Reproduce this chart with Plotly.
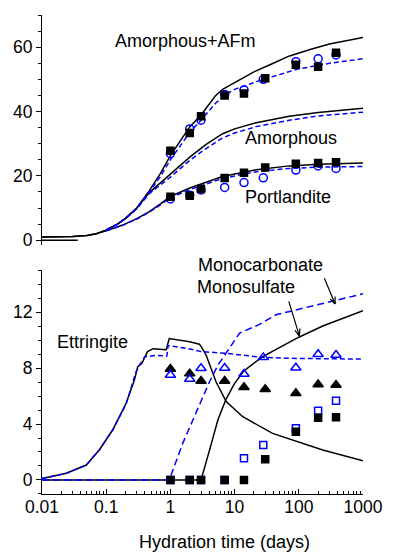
import math
import numpy as np
import plotly.graph_objects as go

# ---------------- data: top panel (model curves) ----------------
t_afm_bk = [0.01, 0.02, 0.03, 0.05, 0.07, 0.1, 0.15, 0.2, 0.3, 0.47, 0.7, 1, 1.5, 2, 3, 4, 5, 6.5, 10, 20, 40, 70, 150, 300, 1000]
v_afm_bk = [1.0, 1.05, 1.15, 1.45, 2.0, 3.2, 5.0, 6.8, 10.0, 15.4, 20.8, 26.3, 31.5, 35.2, 38.9, 42.4, 44.8, 46.9, 49.0, 52.3, 55.0, 57.2, 59.3, 61.0, 63.0]
t_afm_bl = [0.1, 0.15, 0.2, 0.3, 0.47, 0.7, 1, 1.5, 2, 3, 4, 5, 7, 10, 28, 93, 300, 1000]
v_afm_bl = [3.2, 5.0, 6.7, 9.8, 15.0, 19.8, 25.0, 30.0, 33.5, 37.3, 40.3, 42.5, 45.0, 46.9, 50.0, 53.1, 55.0, 56.4]

t_am_bk = [0.1, 0.15, 0.2, 0.3, 0.47, 0.7, 1, 2, 3.6, 6.5, 10, 21.7, 71, 200, 1000]
v_am_bk = [3.2, 5.0, 6.8, 10.0, 14.8, 17.8, 20.5, 25.8, 29.8, 33.1, 34.6, 36.5, 38.5, 39.7, 41.0]
t_am_bl = [0.1, 0.15, 0.2, 0.3, 0.47, 0.7, 1, 2, 3.6, 6.5, 10, 21.7, 71, 200, 1000]
v_am_bl = [3.2, 5.0, 6.7, 9.8, 14.5, 17.2, 19.6, 24.8, 28.5, 31.8, 33.3, 35.3, 37.3, 38.6, 39.8]

t_pt_bk = [0.01, 0.02, 0.03, 0.05, 0.07, 0.1, 0.18, 0.3, 0.47, 0.7, 1, 2, 4, 6.5, 21.7, 71, 200, 1000]
v_pt_bk = [1.0, 1.05, 1.15, 1.45, 2.0, 2.9, 4.7, 6.7, 8.9, 11.3, 13.6, 16.2, 18.4, 19.8, 21.9, 23.1, 23.6, 24.0]
t_pt_bl = [0.1, 0.18, 0.3, 0.47, 0.7, 1, 2, 4, 6.5, 21.7, 71, 200, 1000]
v_pt_bl = [2.9, 4.6, 6.6, 8.7, 11.0, 13.2, 15.7, 17.9, 19.2, 21.3, 22.3, 22.7, 22.9]
t_base = [0.01, 0.036]
v_base = [0.0, 0.0]

# ---------------- data: experimental points ----------------
t_exp_filled = [1, 2, 3, 7, 14, 30, 90, 200, 380]
t_exp_open = [1, 2, 3, 7, 14, 28, 90, 200, 380]
afm_filled = [27.8, 33.3, 38.5, 45.0, 45.6, 50.3, 54.5, 53.9, 58.3]
afm_open = [26.9, 34.6, 37.3, 45.3, 46.7, 50.0, 55.5, 56.4, 57.6]
pt_filled = [13.5, 13.8, 15.9, 19.3, 21.0, 22.6, 23.75, 24.0, 24.2]
pt_open = [12.8, 14.0, 15.6, 16.4, 17.9, 19.4, 21.8, 23.1, 22.3]

ett_filled = [7.93, 7.6, 7.07, 7.07, 6.62, 6.48, 6.19, 6.83, 6.79]
ett_open = [7.5, 7.22, 7.98, 8.0, 7.57, 8.76, 8.02, 8.98, 8.93]
afm2_filled = [0, 0, 0, 0, 0, 1.48, 3.45, 4.45, 4.48]
afm2_open = [0, 0, 0, 0, 1.55, 2.5, 3.69, 4.95, 5.67]

# ---------------- data: bottom panel (model curves) ----------------
t_ett_bk = [0.01, 0.024, 0.049, 0.078, 0.126, 0.204, 0.275, 0.31, 0.36, 0.44, 0.54, 0.76, 0.86, 0.96, 2, 2.83, 3.0, 3.6, 4.05, 5.15, 7.4, 13.4, 39, 236, 1000]
v_ett_bk = [0.1, 0.48, 1.07, 2.14, 3.57, 5.48, 7.14, 8.1, 8.33, 9.17, 9.38, 9.29, 9.3, 10.1, 9.88, 9.7, 9.55, 8.93, 8.33, 7.0, 5.6, 4.52, 3.33, 2.14, 1.38]
t_ett_bl = [0.01, 0.024, 0.049, 0.078, 0.126, 0.204, 0.26, 0.29, 0.34, 0.4, 0.6, 0.88, 0.92, 2, 3, 7.4, 27, 100, 1000]
v_ett_bl = [0.1, 0.48, 1.07, 2.14, 3.57, 5.4, 7.0, 7.7, 8.3, 8.8, 8.9, 8.86, 9.6, 9.36, 9.17, 9.05, 8.76, 8.68, 8.64]

t_mc_bl = [0.01, 0.96, 1.55, 2, 3, 4.05, 5.5, 7.4, 12, 24, 44, 100, 236, 1000]
v_mc_bl = [0.0, 0.0, 2.6, 3.8, 5.7, 7.0, 8.2, 9.05, 10.5, 11.1, 11.8, 12.2, 12.6, 13.3]
t_ms_bk = [0.01, 3.0, 4.05, 5.5, 7.4, 10, 14, 27, 100, 236, 1000]
v_ms_bk = [0.0, 0.0, 2.1, 4.3, 5.8, 6.9, 7.8, 8.8, 10.2, 11.0, 12.1]

x_tickvals = [0.01, 0.1, 1, 10, 100, 1000]
x_ticktext = ["0.01", "0.1", "1", "10", "100", "1000"]
y1_tickvals = [0, 20, 40, 60]
y2_tickvals = [0, 4, 8, 12]

BLUE = "#0000ff"
BLACK = "#000000"
FONT = "Liberation Sans, Arial, Helvetica, sans-serif"
FS = 18

fig = go.Figure()

def line(t, v, color, dash, xa, ya):
    fig.add_trace(go.Scatter(x=t, y=v, mode="lines", xaxis=xa, yaxis=ya,
                             line=dict(color=color, width=1.5, dash=dash),
                             showlegend=False, hoverinfo="skip"))

def pts(t, v, symbol, color, size, xa, ya):
    fig.add_trace(go.Scatter(x=t, y=v, mode="markers", xaxis=xa, yaxis=ya,
                             marker=dict(symbol=symbol, color=color, size=size,
                                         line=dict(color=color, width=1.5)),
                             showlegend=False, hoverinfo="skip", cliponaxis=False))

# top panel
line(t_base, v_base, BLACK, "solid", "x", "y")
line(t_afm_bk, v_afm_bk, BLACK, "solid", "x", "y")
line(t_am_bk, v_am_bk, BLACK, "solid", "x", "y")
line(t_pt_bk, v_pt_bk, BLACK, "solid", "x", "y")
line(t_afm_bl, v_afm_bl, BLUE, "5px,3px", "x", "y")
line(t_am_bl, v_am_bl, BLUE, "5px,3px", "x", "y")
line(t_pt_bl, v_pt_bl, BLUE, "5px,3px", "x", "y")
pts(t_exp_open, afm_open, "circle-open", BLUE, 8, "x", "y")
pts(t_exp_open, pt_open, "circle-open", BLUE, 8, "x", "y")
pts(t_exp_filled, afm_filled, "square", BLACK, 7, "x", "y")
pts(t_exp_filled, pt_filled, "square", BLACK, 7, "x", "y")

# bottom panel
line(t_ett_bk, v_ett_bk, BLACK, "solid", "x2", "y2")
line(t_ms_bk, v_ms_bk, BLACK, "solid", "x2", "y2")
line(t_ett_bl, v_ett_bl, BLUE, "5px,3px", "x2", "y2")
line(t_mc_bl, v_mc_bl, BLUE, "7px,4px", "x2", "y2")
pts(t_exp_filled, ett_filled, "triangle-up", BLACK, 9, "x2", "y2")
pts(t_exp_open, ett_open, "triangle-up-open", BLUE, 9, "x2", "y2")
pts(t_exp_open, afm2_open, "square-open", BLUE, 7, "x2", "y2")
pts(t_exp_filled, afm2_filled, "square", BLACK, 7, "x2", "y2")

# invisible trace so the decade-tick overlay axis is drawn
fig.add_trace(go.Scatter(x=x_tickvals, y=[0] * len(x_tickvals), mode="lines",
                         xaxis="x3", yaxis="y2", line=dict(width=0),
                         opacity=0, showlegend=False, hoverinfo="skip"))

minor_vals = [m * 10.0 ** e for e in range(-2, 3) for m in range(2, 10)]

common_x = dict(type="log", range=[-2, 3], showgrid=False, zeroline=False)
fig.update_layout(
    width=397, height=554,
    margin=dict(l=42, r=34, t=15, b=60, pad=0),
    paper_bgcolor="white", plot_bgcolor="white",
    font=dict(family=FONT, size=17.5, color=BLACK),
    xaxis=dict(**common_x, domain=[0, 1], anchor="y", showline=False,
               showticklabels=False, ticks=""),
    yaxis=dict(domain=[0.5198, 1], range=[-1.5, 70], anchor="x",
               tickmode="array", tickvals=y1_tickvals, ticks="outside", ticklen=5,
               tickcolor=BLACK, showline=True, linecolor=BLACK, linewidth=1,
               showgrid=False, zeroline=False,
               minor=dict(dtick=5, ticks="outside", ticklen=3, tickcolor=BLACK, showgrid=False)),
    xaxis2=dict(**common_x, domain=[0, 1], anchor="y2",
                tickmode="array", tickvals=minor_vals,
                ticktext=[""] * len(minor_vals), showticklabels=False,
                ticks="inside", ticklen=3, tickcolor=BLACK,
                showline=True, linecolor=BLACK, linewidth=1),
    xaxis3=dict(**common_x, overlaying="x2", anchor="y2", side="bottom",
                tickmode="array", tickvals=x_tickvals, ticktext=x_ticktext,
                ticks="inside", ticklen=5, tickcolor=BLACK, showline=False),
    yaxis2=dict(domain=[0, 0.4676], range=[-1, 15], anchor="x2",
                tickmode="array", tickvals=y2_tickvals, ticks="outside", ticklen=5,
                tickcolor=BLACK, showline=True, linecolor=BLACK, linewidth=1,
                showgrid=False, zeroline=False,
                minor=dict(dtick=1, ticks="outside", ticklen=3, tickcolor=BLACK, showgrid=False)),
)

def label(text, t, v, xa, ya):
    fig.add_annotation(text=text, x=math.log10(t), y=v, xref=xa, yref=ya,
                       xanchor="left", yanchor="middle", showarrow=False,
                       font=dict(size=FS, color=BLACK, family=FONT))

label("Amorphous+AFm", 0.129, 61.9, "x", "y")
label("Amorphous", 13.7, 31.8, "x", "y")
label("Portlandite", 13.7, 13.5, "x", "y")
label("Ettringite", 0.0162, 9.88, "x2", "y2")
label("Monosulfate", 2.45, 13.81, "x2", "y2")
fig.add_annotation(text="Monocarbonate", x=0.4798, y=0.478, xref="paper", yref="paper",
                   xanchor="left", yanchor="middle", showarrow=False,
                   font=dict(size=FS, color=BLACK, family=FONT))

def arrow(t, v, ax, ay):
    lx = math.log10(t)
    L = math.hypot(ax, ay)
    ux, uy = ax / L, ay / L
    segs = [(ax, ay)]
    for ang in (math.radians(22), -math.radians(22)):
        wx = ux * math.cos(ang) - uy * math.sin(ang)
        wy = ux * math.sin(ang) + uy * math.cos(ang)
        segs.append((wx * 9, wy * 9))
    for sx, sy in segs:
        fig.add_annotation(text="", x=lx, y=v, xref="x2", yref="y2",
                           ax=sx, ay=sy, showarrow=True, arrowhead=0,
                           arrowwidth=1.2, arrowcolor=BLACK, standoff=0)

arrow(368, 12.57, -11.4, -27.3)
arrow(102, 10.3, -11, -36)

fig.add_annotation(text="Hydration time (days)", xref="paper", yref="paper",
                   x=0.567, y=-0.0996, xanchor="center", yanchor="middle",
                   showarrow=False, font=dict(size=FS, color=BLACK, family=FONT))

fig.write_html("out.html")
